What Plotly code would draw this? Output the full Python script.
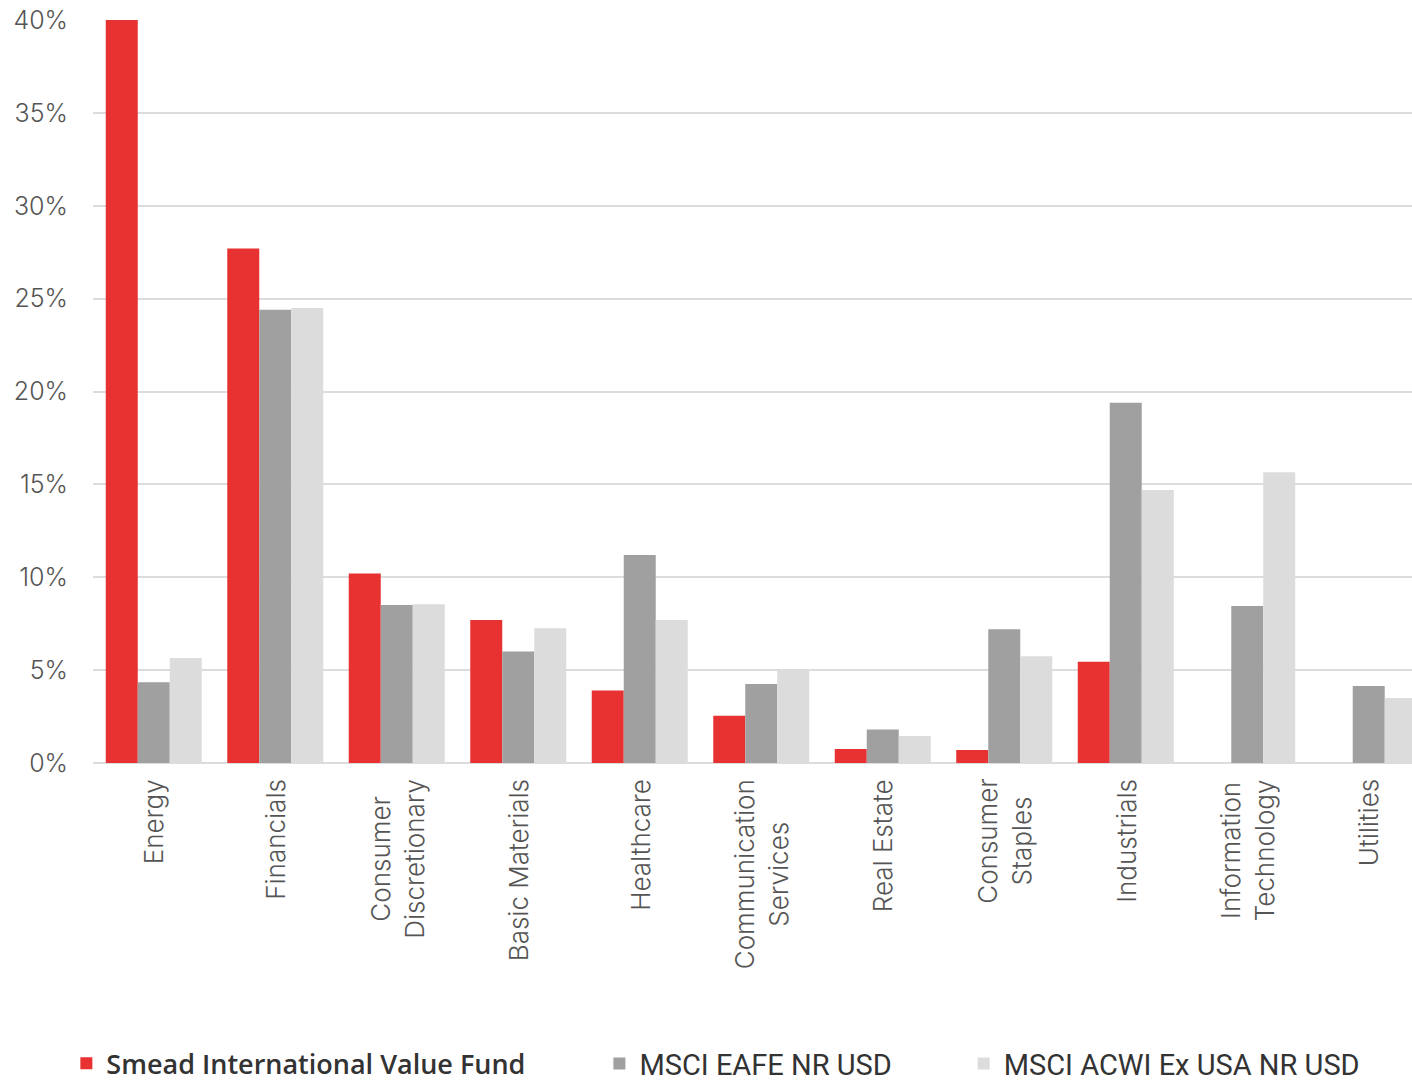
import plotly.graph_objects as go

categories = ["Energy", "Financials", "Consumer<br>Discretionary", "Basic Materials", "Healthcare",
              "Communication<br>Services", "Real Estate", "Consumer<br>Staples", "Industrials",
              "Information<br>Technology", "Utilities"]
cat_keys = ["Energy", "Financials", "Consumer Discretionary", "Basic Materials", "Healthcare",
            "Communication Services", "Real Estate", "Consumer Staples", "Industrials",
            "Information Technology", "Utilities"]
smead = [40.0, 27.7, 10.2, 7.7, 3.9, 2.55, 0.75, 0.7, 5.45, 0.0, 0.0]
eafe = [4.35, 24.4, 8.5, 6.0, 11.2, 4.25, 1.8, 7.2, 19.4, 8.45, 4.15]
acwi = [5.65, 24.5, 8.55, 7.25, 7.7, 5.05, 1.45, 5.75, 14.7, 15.65, 3.5]
y_ticks = [0, 5, 10, 15, 20, 25, 30, 35, 40]
y_ticktext = [f"{v}%" for v in y_ticks]

series = [
    ("Smead International Value Fund", smead, "#e83232", "legend"),
    ("MSCI EAFE NR USD", eafe, "#a0a0a0", "legend2"),
    ("MSCI ACWI Ex USA NR USD", acwi, "#dcdcdc", "legend3"),
]

fig = go.Figure()
for name, vals, color, lg in series:
    fig.add_trace(go.Bar(x=cat_keys, y=vals, name=name, marker_color=color,
                         marker_line_width=0, legend=lg, showlegend=True))

label_font = dict(family="Inter", size=26, color="#555555", weight=300)
for key, lab in zip(cat_keys, categories):
    fig.add_annotation(x=key, y=0, xref="x", yref="paper", text=lab, textangle=-90,
                       showarrow=False, xanchor="center", yanchor="top", yshift=-14,
                       align="center", font=label_font)

legend_common = dict(orientation="h", xref="container", yref="container", y=0.017,
                     xanchor="left", yanchor="middle", itemwidth=30)

fig.update_layout(
    width=1412, height=1082,
    showlegend=True,
    margin=dict(l=93, r=0, t=20, b=319),
    paper_bgcolor="white", plot_bgcolor="white",
    barmode="group", bargap=0.21, bargroupgap=0,
    xaxis=dict(range=[-0.5, 10.356], showticklabels=False, showgrid=False, zeroline=False,
               showline=False, ticks=""),
    yaxis=dict(range=[0, 40], tickvals=y_ticks, ticktext=y_ticktext, showgrid=True,
               gridcolor="#dcdcdc", gridwidth=2, zeroline=True, zerolinecolor="#dcdcdc",
               zerolinewidth=2, showline=False, ticks="", ticklabelstandoff=24,
               tickfont=dict(family="Inter", size=25, color="#555555", weight=300)),
    legend=dict(x=0.047, font=dict(family="Open Sans", size=27, color="#333333", weight=600),
                **legend_common),
    legend2=dict(x=0.4245, font=dict(family="Roboto", size=29, color="#333333"),
                 **legend_common),
    legend3=dict(x=0.6825, font=dict(family="Roboto", size=29, color="#333333"),
                 **legend_common),
)

fig.write_html("out.html")
